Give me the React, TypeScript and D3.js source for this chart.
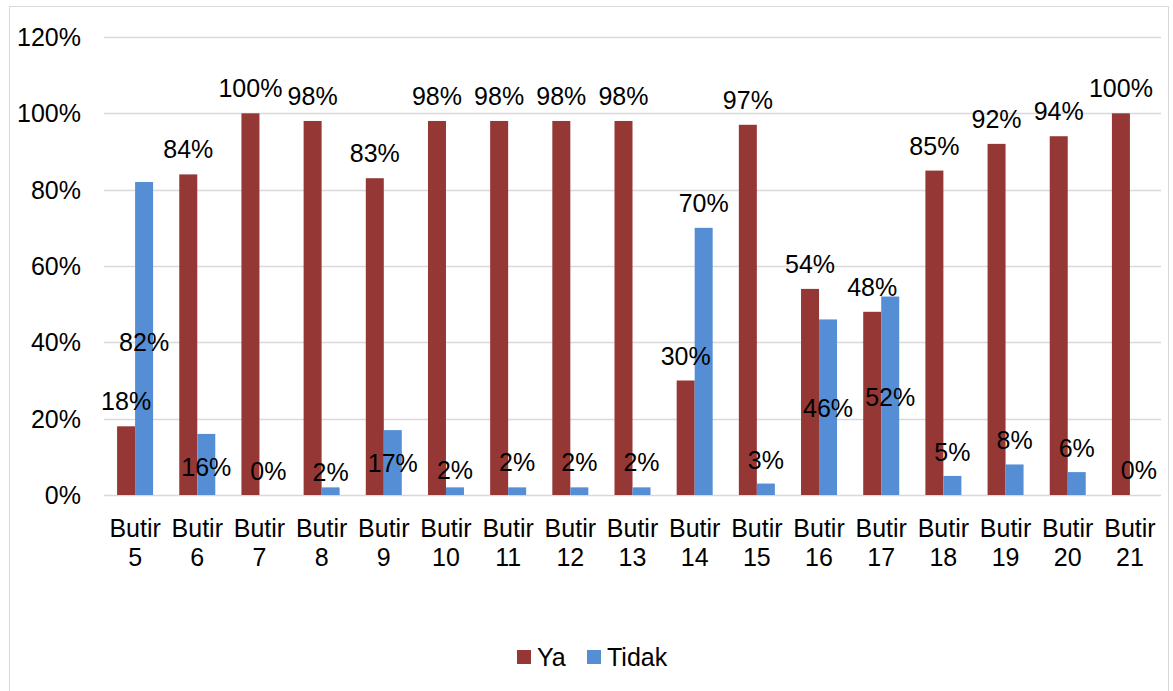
import React from "react";
import * as d3 from "d3";

const categories = ["5","6","7","8","9","10","11","12","13","14","15","16","17","18","19","20","21"];
const yaValues = [18,84,100,98,83,98,98,98,98,30,97,54,48,85,92,94,100];
const tidakValues = [82,16,0,2,17,2,2,2,2,70,3,46,52,5,8,6,0];
// where the (manually placed) "Tidak" data labels sit, in axis units
const tidakLabelAt = [40.1,7.3,6.3,6.0,8.4,6.6,8.6,8.6,8.6,76.5,9.2,22.8,25.7,11.3,14.4,12.3,6.6];
const yTicks = [0,20,40,60,80,100,120];
const seriesNames = ["Ya","Tidak"];
const colors = ["#953735","#558ED5"];

const W = 1173, H = 691;
const plot = { left: 104, right: 1161, top: 37, bottom: 495 };
const FONT = "'Liberation Sans', Arial, sans-serif";
const FS = 25;

export default function App() {
  const x = d3.scaleBand<string>().domain(categories).range([plot.left, plot.right]).paddingInner(0).paddingOuter(0);
  const inner = d3.scaleBand<string>().domain(seriesNames).range([0, 36]);
  const y = d3.scaleLinear().domain([0,120]).range([plot.bottom, plot.top]);
  const offset = (x.bandwidth() - 36) / 2;
  const series = [yaValues, tidakValues];

  return (
    <svg width={W} height={H} style={{ position: "absolute", left: 0, top: 0, background: "#fff" }} fontFamily={FONT}>
      <rect x={9.5} y={6.5} width={1159} height={690} fill="#fff" stroke="#d9d9d9" strokeWidth={1} />
      {yTicks.map(t => (
        <g key={t}>
          <line x1={plot.left} x2={plot.right} y1={Math.round(y(t)) + 0.5} y2={Math.round(y(t)) + 0.5} stroke="#d9d9d9" strokeWidth={1.3} />
          <text x={81} y={y(t)} textAnchor="end" dominantBaseline="central" fontSize={FS} fill="#000">{t}%</text>
        </g>
      ))}
      {categories.map((c, i) => (
        <g key={c}>
          {series.map((vals, s) => {
            const bx = (x(c) as number) + offset + (inner(seriesNames[s]) as number);
            const v = vals[i];
            return v > 0 ? (
              <rect key={s} x={bx} y={y(v)} width={inner.bandwidth()} height={y(0) - y(v)} fill={colors[s]} />
            ) : null;
          })}
          <text x={(x(c) as number) + offset + (inner("Ya") as number) + inner.bandwidth() / 2} y={y(yaValues[i]) - 25}
            textAnchor="middle" dominantBaseline="central" fontSize={FS} fill="#000">{yaValues[i]}%</text>
          <text x={(x(c) as number) + offset + (inner("Tidak") as number) + inner.bandwidth() / 2} y={y(tidakLabelAt[i])}
            textAnchor="middle" dominantBaseline="central" fontSize={FS} fill="#000">{tidakValues[i]}%</text>
          <text x={(x(c) as number) + x.bandwidth() / 2} y={537} textAnchor="middle" fontSize={FS} fill="#000">Butir</text>
          <text x={(x(c) as number) + x.bandwidth() / 2} y={566} textAnchor="middle" fontSize={FS} fill="#000">{c}</text>
        </g>
      ))}
      <g>
        <rect x={517} y={650} width={14} height={14} fill={colors[0]} />
        <text x={537} y={666} fontSize={FS} fill="#000">{seriesNames[0]}</text>
        <rect x={587} y={650} width={14} height={14} fill={colors[1]} />
        <text x={607} y={666} fontSize={FS} fill="#000">{seriesNames[1]}</text>
      </g>
    </svg>
  );
}
